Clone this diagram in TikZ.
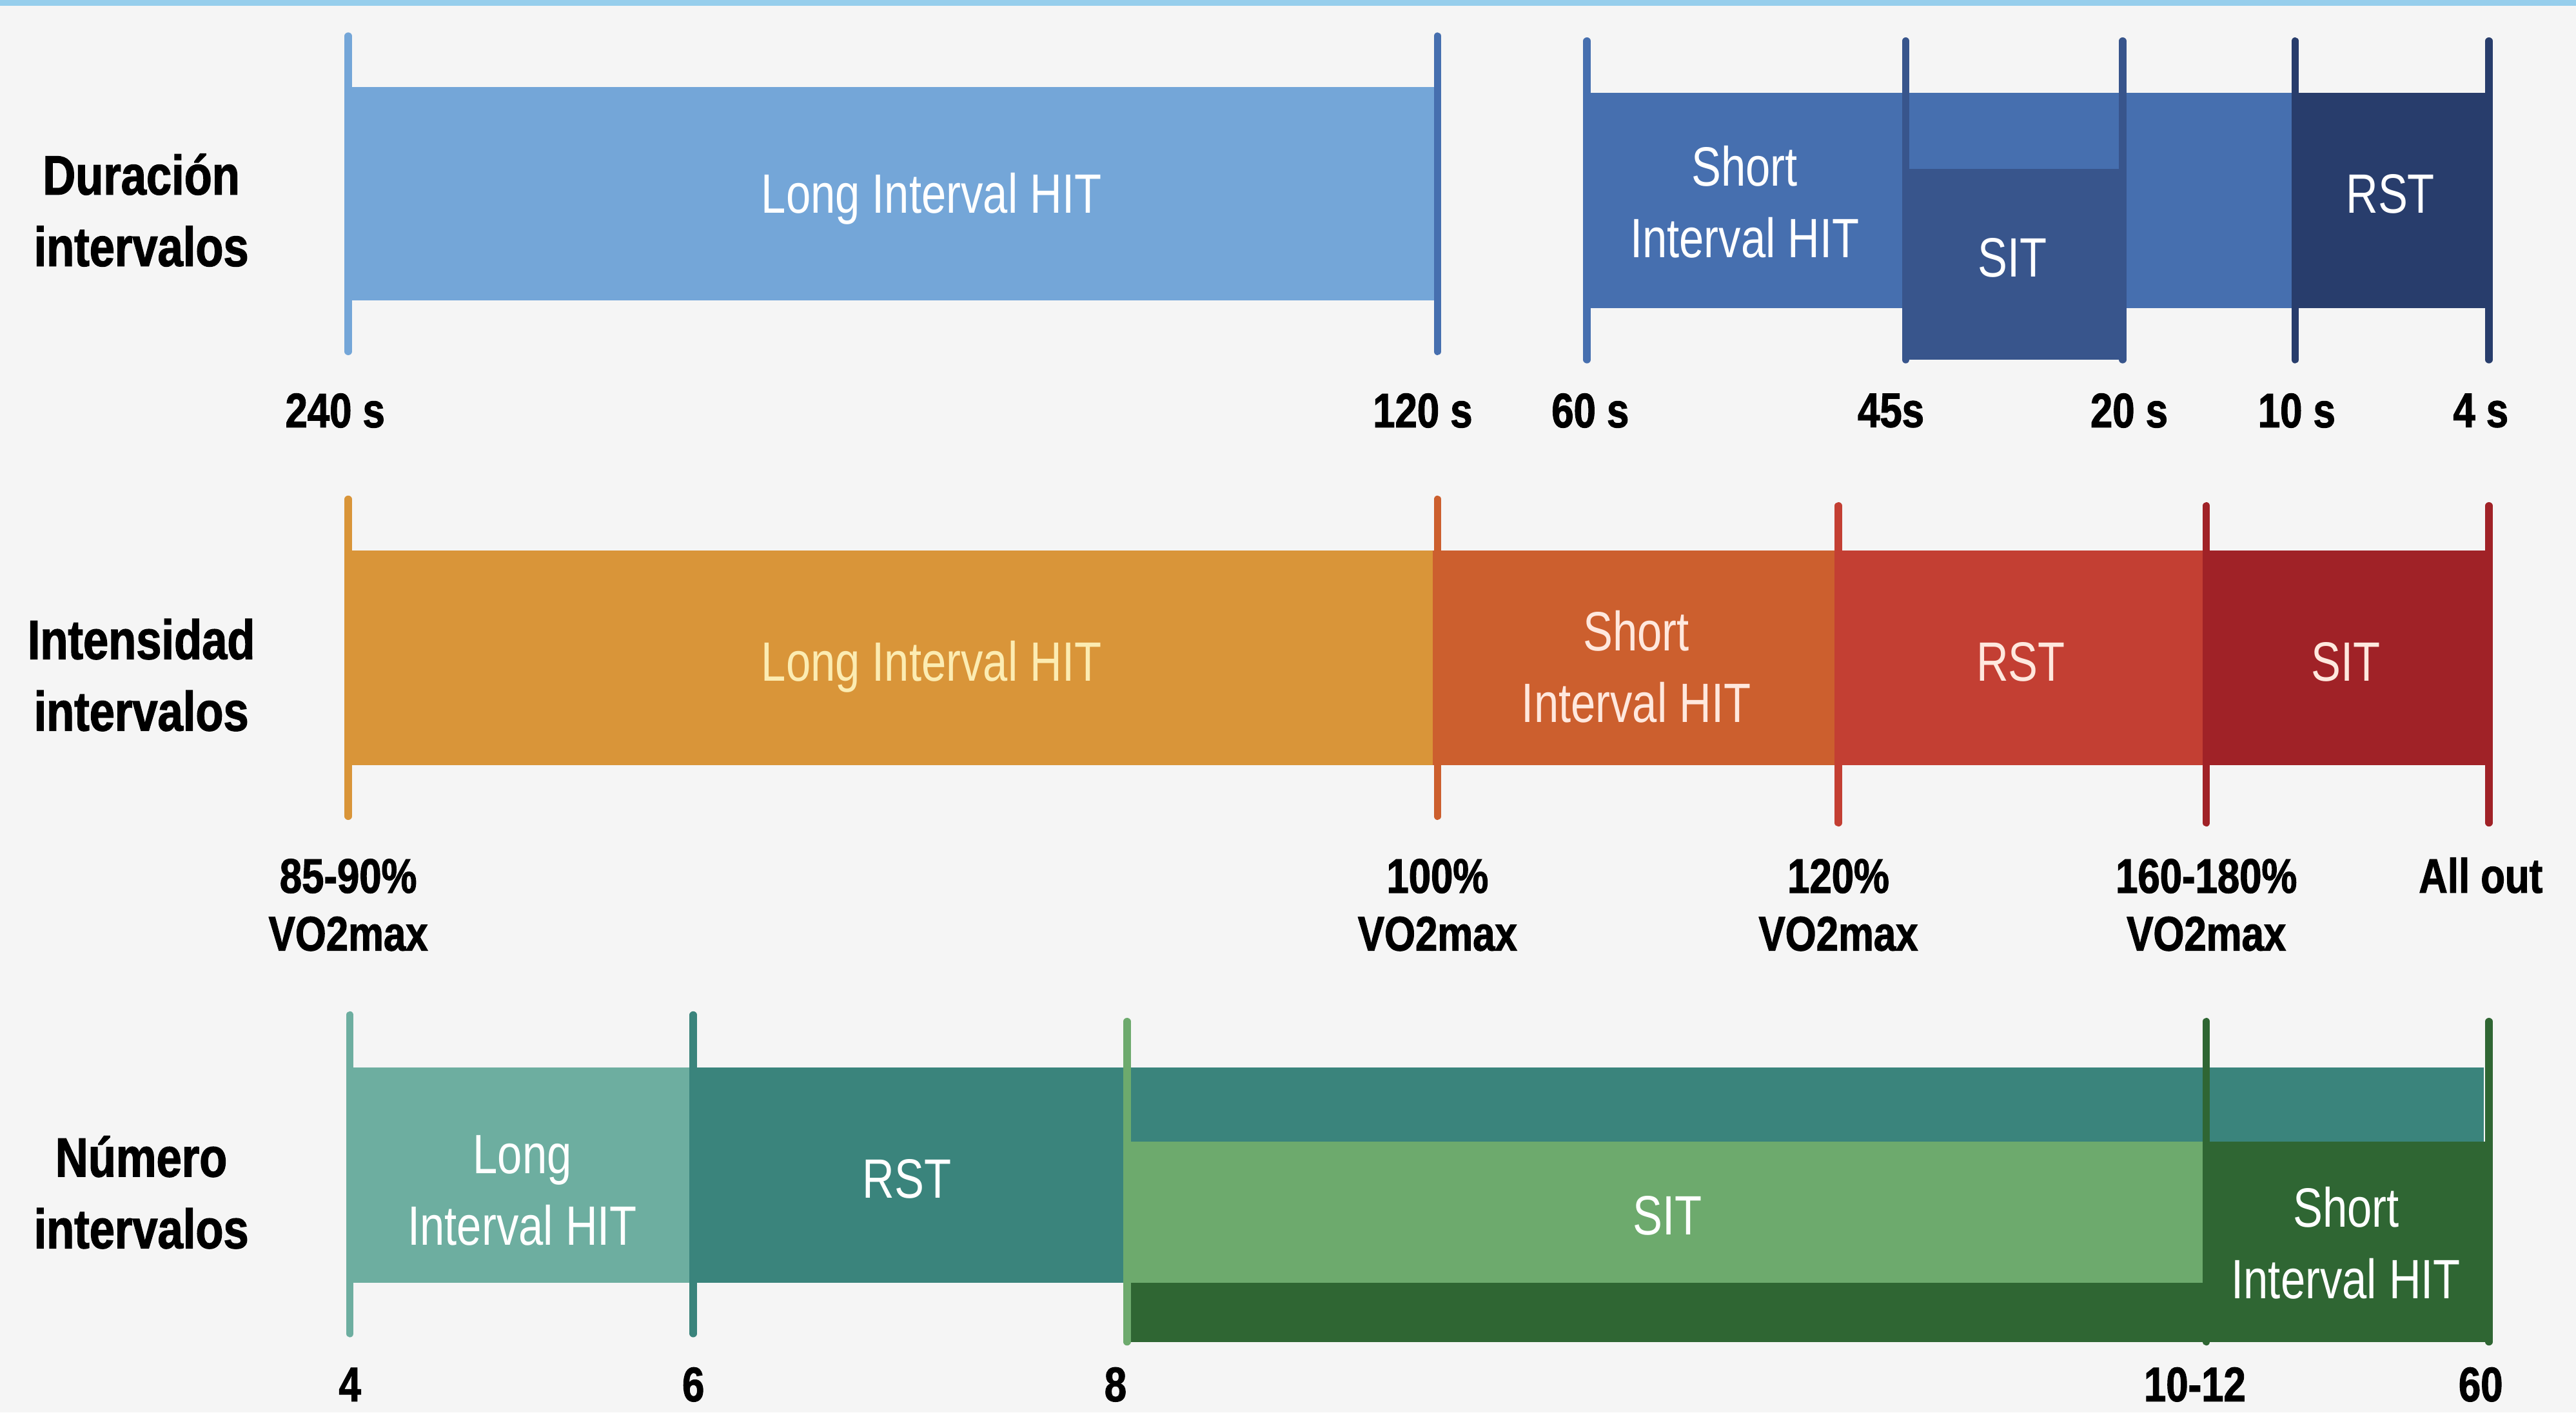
\documentclass[tikz,border=0pt]{standalone}
\usepackage{fontspec}
\setmainfont{Liberation Sans}
\newfontfamily\headfont[FakeStretch=0.82, BoldFeatures={FakeBold=1.5}]{Liberation Sans}
\newfontfamily\barfont[FakeStretch=0.8]{Liberation Sans}
\usepackage{tikz}
\usetikzlibrary{positioning}

\definecolor{pagebg}{RGB}{245,245,245}
\definecolor{topband}{RGB}{150,206,236}
\definecolor{durLong}{RGB}{116,166,216}
\definecolor{durShort}{RGB}{70,111,175}
\definecolor{durSIT}{RGB}{56,85,140}
\definecolor{durRST}{RGB}{40,61,108}
\definecolor{intLong}{RGB}{217,149,57}
\definecolor{intShort}{RGB}{204,95,46}
\definecolor{intRST}{RGB}{195,63,51}
\definecolor{intSIT}{RGB}{160,34,39}
\definecolor{numLong}{RGB}{109,174,160}
\definecolor{numRST}{RGB}{58,132,124}
\definecolor{numSIT}{RGB}{109,170,109}
\definecolor{numShort}{RGB}{47,102,51}
\definecolor{paleyel}{RGB}{252,236,178}
\definecolor{palered}{RGB}{255,232,222}

\begin{document}
\begin{tikzpicture}[
    x=0.025cm, y=-0.025cm,
    head/.style={align=center, font=\headfont\bfseries\fontsize{24}{31}\selectfont},
    barlbl/.style={align=center, text=white, font=\barfont\fontsize{24}{31}\selectfont},
    ticklbl/.style={align=center, font=\headfont\bfseries\fontsize{21}{25}\selectfont},
    tick/.style={line width=3.2pt, line cap=round},
]
\fill[pagebg] (0,0) rectangle (1568,860);
\fill[topband] (0,0) rectangle (1568,3.5);

\fill[durLong] (212,53) rectangle (875,183);
\fill[durShort] (966,56.5) rectangle (1396,187.5);
\fill[durSIT] (1158,103) rectangle (1292,219);
\fill[durRST] (1396,56.5) rectangle (1515,187.5);

\draw[tick, durLong] (212,22) -- (212,214);
\draw[tick, durShort] (875,22) -- (875,214);
\draw[tick, durShort] (966,25) -- (966,219);
\draw[tick, durSIT] (1160,25) -- (1160,219);
\draw[tick, durSIT] (1292,25) -- (1292,219);
\draw[tick, durRST] (1397,25) -- (1397,219);
\draw[tick, durRST] (1515,25) -- (1515,219);

\node[head] (durhead) at (86,128) {Duración\\intervalos};
\node[barlbl] (durlong) at (567,121) {Long Interval HIT};
\node[barlbl] (durshort) at (1062,123) {Short\\Interval HIT};
\node[barlbl] (dursit) at (1225,157) {SIT};
\node[barlbl] (durrst) at (1455,118) {RST};

\node[ticklbl] (d240) at (204,250) {240 s};
\node[ticklbl] (d120) at (866,250) {120 s};
\node[ticklbl] (d60) at (968,250) {60 s};
\node[ticklbl] (d45) at (1151,250) {45s};
\node[ticklbl] (d20) at (1296,250) {20 s};
\node[ticklbl] (d10) at (1398,250) {10 s};
\node[ticklbl] (d4) at (1510,250) {4 s};

\fill[intLong] (212,335) rectangle (872,466);
\fill[intShort] (872,335) rectangle (1118,466);
\fill[intRST] (1118,335) rectangle (1342,466);
\fill[intSIT] (1342,335) rectangle (1515,466);

\draw[tick, intLong] (212,304) -- (212,497);
\draw[tick, intShort] (875,304) -- (875,497);
\draw[tick, intRST] (1119,308) -- (1119,501);
\draw[tick, intSIT] (1343,308) -- (1343,501);
\draw[tick, intSIT] (1515,308) -- (1515,501);

\node[head] (inthead) at (86,411) {Intensidad\\intervalos};
\node[barlbl, text=paleyel] (intlong) at (567,406) {Long Interval HIT};
\node[barlbl, text=palered] (intshort) at (996,406) {Short\\Interval HIT};
\node[barlbl, text=palered] (intrst) at (1230,403) {RST};
\node[barlbl, text=palered] (intsit) at (1428,403) {SIT};

\node[ticklbl] (i85) at (212,551) {85-90\%\\VO2max};
\node[ticklbl] (i100) at (875,551) {100\%\\VO2max};
\node[ticklbl] (i120) at (1119,551) {120\%\\VO2max};
\node[ticklbl] (i160) at (1343,551) {160-180\%\\VO2max};
\node[ticklbl] (iall) at (1510,533) {All out};

\fill[numLong] (213,650) rectangle (422,781);
\fill[numRST] (422,650) rectangle (1512,695);
\fill[numRST] (422,650) rectangle (686,781);
\fill[numShort] (686,695) rectangle (1516,817);
\fill[numSIT] (686,695) rectangle (1341,781);

\draw[tick, numLong] (213,618) -- (213,812);
\draw[tick, numRST] (422,618) -- (422,812);
\draw[tick, numSIT] (686,622) -- (686,817);
\draw[tick, numShort] (1343,622) -- (1343,817);
\draw[tick, numShort] (1515,622) -- (1515,817);

\node[head] (numhead) at (86,726) {Número\\intervalos};
\node[barlbl] (numlong) at (318,725) {Long\\Interval HIT};
\node[barlbl] (numrst) at (552,718) {RST};
\node[barlbl] (numsit) at (1015,740) {SIT};
\node[barlbl] (numshort) at (1428,757) {Short\\Interval HIT};

\node[ticklbl] (n4) at (213,843) {4};
\node[ticklbl] (n6) at (422,843) {6};
\node[ticklbl] (n8) at (679,843) {8};
\node[ticklbl] (n10) at (1336,843) {10-12};
\node[ticklbl] (n60) at (1510,843) {60};
\end{tikzpicture}
\end{document}
